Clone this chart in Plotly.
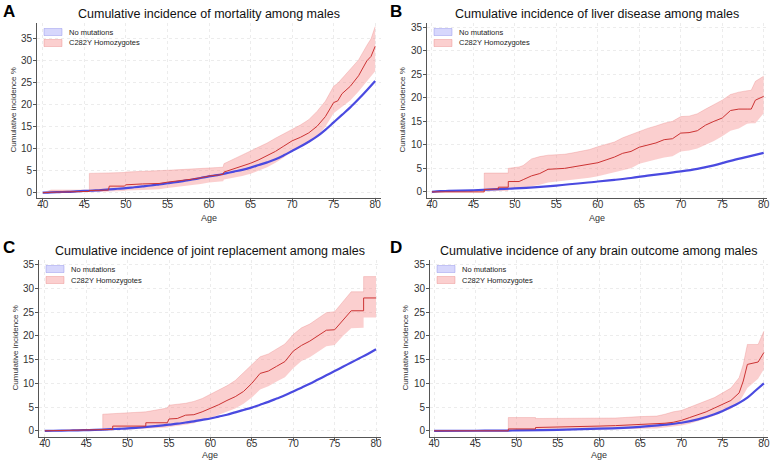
import plotly.graph_objects as go

# ---- data ----
titles = ["Cumulative incidence of mortality among males",
          "Cumulative incidence of liver disease among males",
          "Cumulative incidence of joint replacement among males",
          "Cumulative incidence of any brain outcome among males"]
letters = ["A", "B", "C", "D"]
legend_names = ["No mutations", "C282Y Homozygotes"]
x_title = "Age"
y_title = "Cumulative incidence %"
x_ticks = [40, 45, 50, 55, 60, 65, 70, 75, 80]
y_ticks = [0, 5, 10, 15, 20, 25, 30, 35]

# A: mortality
a_age_blue = [40, 41, 42, 43, 44, 45, 46, 47, 48, 49, 50, 51, 52, 53, 54, 55, 56, 57, 58, 59, 60,
              61, 62, 63, 64, 65, 66, 67, 68, 69, 70, 71, 72, 73, 74, 75, 76, 77, 78, 79, 80]
a_blue = [0, 0.1, 0.15, 0.2, 0.3, 0.4, 0.5, 0.6, 0.75, 0.9, 1.05, 1.25, 1.45, 1.65, 1.9, 2.15, 2.4,
          2.7, 3.0, 3.35, 3.7, 4.0, 4.4, 4.8, 5.2, 5.7, 6.3, 6.9, 7.6, 8.5, 9.5, 10.5, 11.6,
          12.8, 14.3, 16.0, 17.7, 19.4, 21.3, 23.3, 25.4]
a_age = [40, 41, 45.6, 45.6, 47.9, 48, 49.8, 50, 52, 54, 55, 56, 57, 58, 59, 60, 61, 61.7, 61.8,
         63, 64, 65, 66, 67, 68, 69, 70, 71, 72, 73, 74, 75, 75.5, 76, 77, 78, 79, 79.5, 80]
a_red = [0, 0.1, 0.3, 0.5, 0.6, 1.5, 1.5, 1.8, 2.0, 2.1, 2.4, 2.6, 2.8, 3.1, 3.4, 3.8, 4.0, 4.2,
         4.7, 5.4, 6.0, 6.7, 7.5, 8.4, 9.4, 10.6, 11.8, 12.6, 13.6, 15.1, 17.3, 20.5, 20.9, 22.5,
         24.2, 26.6, 30.0, 31.0, 33.3]
a_lo = [0, 0.1, 0.3, 0.1, 0.2, 0.3, 0.4, 0.5, 0.6, 0.8, 1.1, 1.3, 1.5, 1.8, 2.0, 2.3, 2.5, 2.6,
        3.0, 3.4, 3.8, 4.3, 5.0, 5.8, 6.8, 8.0, 9.4, 10.3, 11.3, 12.8, 15.0, 18.1, 18.8, 19.5,
        21.0, 23.0, 25.5, 26.5, 27.6]
a_hi = [0, 0.6, 0.6, 4.4, 4.5, 4.5, 4.6, 4.7, 4.8, 4.9, 5.1, 5.2, 5.3, 5.4, 5.5, 5.6, 5.7, 5.8,
        6.6, 7.7, 8.5, 9.5, 10.3, 11.3, 12.4, 13.4, 14.4, 15.4, 16.6, 18.5, 20.8, 24.2, 24.9,
        26.0, 28.0, 30.2, 33.5, 35.0, 37.8]

# B: liver disease
b_age_blue = [40, 41, 42, 45, 50, 55, 60, 62, 64, 66, 68, 70, 72, 74, 76, 78, 80]
b_blue = [0, 0.15, 0.2, 0.35, 0.75, 1.35, 2.2, 2.55, 2.95, 3.45, 3.9, 4.35, 4.9, 5.65, 6.6, 7.45, 8.3]
b_age = [40, 46.3, 46.3, 48, 48, 49.2, 49.2, 50.5, 51, 52, 53, 54, 55, 56, 57, 58, 59, 60, 61, 62,
         63, 64, 65, 66, 67, 68, 69, 70, 71, 72, 73, 74, 75, 76, 77, 78, 78.5, 79, 80]
b_red = [0, 0, 0.5, 0.6, 1.0, 1.0, 2.2, 2.2, 2.6, 3.4, 3.9, 4.8, 4.9, 5.0, 5.3, 5.6, 6.0, 6.2, 6.8,
         7.4, 8.2, 8.6, 9.5, 10.0, 10.4, 11.1, 11.3, 12.5, 12.6, 13.0, 14.2, 15.0, 15.7, 17.3, 17.6,
         17.6, 17.6, 19.5, 20.3]
b_lo = [0, 0, 0.1, 0.2, 0.2, 0.2, 0.7, 0.8, 0.9, 1.2, 1.5, 2.0, 2.2, 2.3, 2.5, 2.7, 3.0, 3.3, 3.7,
        4.1, 4.6, 5.0, 6.0, 6.5, 6.9, 7.3, 7.6, 8.6, 8.8, 9.2, 10.0, 10.8, 11.8, 13.0, 13.5, 14.5,
        14.6, 14.6, 16.7]
b_hi = [0, 0, 4.0, 4.0, 4.0, 4.0, 5.0, 5.3, 5.6, 7.0, 7.5, 7.8, 7.9, 8.0, 8.3, 8.6, 9.0, 9.6,
        10.1, 10.6, 11.5, 12.2, 12.8, 13.5, 14.0, 14.6, 15.0, 16.0, 16.1, 16.6, 17.6, 18.5, 19.5,
        20.7, 21.2, 21.5, 21.6, 23.5, 24.6]

# C: joint replacement
c_age_blue = [40, 41, 42, 43, 44, 45, 46, 47, 48, 49, 50, 51, 52, 53, 54, 55, 56, 57, 58, 59, 60,
              61, 62, 63, 64, 65, 66, 67, 68, 69, 70, 71, 72, 73, 74, 75, 76, 77, 78, 79, 80]
c_blue = [0, 0.02, 0.04, 0.07, 0.1, 0.15, 0.2, 0.27, 0.35, 0.42, 0.5, 0.62, 0.77, 0.93, 1.1, 1.3,
          1.5, 1.75, 2.0, 2.3, 2.6, 3.0, 3.4, 3.9, 4.4, 4.9, 5.5, 6.1, 6.8, 7.5, 8.3, 9.1, 9.9,
          10.8, 11.7, 12.6, 13.5, 14.4, 15.3, 16.2, 17.2]
c_age = [40, 47, 47, 48.2, 48.2, 52.2, 52.2, 54.8, 55, 56, 57, 58, 59, 60, 61, 62, 63, 64, 65, 66,
         67, 68, 69, 70, 71, 72, 73, 74, 75, 76, 77, 78.5, 78.5, 80]
c_red = [0, 0.2, 0.3, 0.3, 1.0, 1.0, 1.7, 1.7, 2.5, 2.6, 3.3, 3.4, 4.0, 4.7, 5.5, 6.4, 7.2, 8.3,
         10.0, 12.1, 12.6, 13.6, 14.6, 16.8, 18.0, 18.9, 20.0, 21.2, 21.3, 23.4, 25.3, 25.3, 28.0,
         28.0]
c_lo = [0, 0.2, 0.0, 0.1, 0.1, 0.4, 0.4, 0.7, 0.8, 1.0, 1.3, 1.6, 2.1, 2.7, 3.4, 4.1, 4.7, 5.7,
        7.0, 8.7, 9.4, 10.4, 11.3, 13.2, 14.7, 15.5, 16.6, 17.8, 18.1, 20.0, 21.6, 21.7, 23.9, 23.9]
c_hi = [0, 0.2, 3.5, 3.6, 3.6, 4.0, 4.0, 4.8, 5.4, 5.6, 5.8, 6.2, 6.8, 7.7, 8.6, 9.5, 10.6, 12.2,
        14.0, 15.6, 16.2, 17.2, 18.3, 20.3, 21.7, 22.5, 23.7, 24.9, 25.1, 27.2, 29.3, 29.3, 32.5,
        32.5]

# D: any brain outcome
d_age_blue = [40, 45, 49, 50, 55, 60, 65, 68, 70, 72, 74, 75, 76, 77, 78, 79, 80]
d_blue = [0, 0.02, 0.05, 0.1, 0.2, 0.45, 0.85, 1.3, 1.7, 2.4, 3.5, 4.2, 5.0, 5.9, 7.0, 8.5, 10.0]
d_age = [40, 49, 49, 52.3, 52.3, 55, 60, 62, 65, 67, 68, 69, 70, 71, 72, 73, 74, 75, 76, 77, 77.5,
         78, 79.3, 80]
d_red = [0, 0, 0.4, 0.4, 0.7, 0.75, 1.0, 1.1, 1.3, 1.4, 1.6, 1.8, 2.2, 2.8, 3.4, 4.0, 4.8, 5.6,
         6.4, 8.0, 10.5, 14.0, 14.5, 16.5]
d_lo = [0, 0, 0, 0, 0.05, 0.1, 0.3, 0.35, 0.5, 0.5, 0.7, 0.9, 1.1, 1.5, 2.0, 2.6, 3.2, 4.0, 4.6,
        6.0, 7.5, 9.0, 11.0, 13.0]
d_hi = [0, 0, 2.8, 2.8, 2.6, 2.6, 2.6, 2.7, 3.0, 3.1, 3.5, 4.0, 4.3, 5.0, 5.6, 6.4, 7.0, 8.0, 9.0,
        11.2, 14.0, 18.2, 18.2, 21.0]

panels = [
    (a_age_blue, a_blue, a_age, a_red, a_lo, a_hi),
    (b_age_blue, b_blue, b_age, b_red, b_lo, b_hi),
    (c_age_blue, c_blue, c_age, c_red, c_lo, c_hi),
    (d_age_blue, d_blue, d_age, d_red, d_lo, d_hi),
]

# ---- layout geometry (pixels of the 775x464 page) ----
W, H = 775, 464
boxes = [(37, 381, 23, 198), (427, 767, 23, 198), (39, 381, 260, 437), (430, 768, 260, 437)]
xranges = [[39.3, 80.7], [39.4, 80.4], [39.3, 80.6], [39.5, 80.5]]
yranges = [[-1.2, 38.6], [-1.3, 35.9], [-1.3, 36.0], [-1.3, 36.0]]
ytitle_x = [13, 402, 15, 405]
xtitle_y = [218, 218, 455, 455]

BLUE = "#4a4ae0"
RED = "#cc3333"
RED_FILL = "rgba(245,140,140,0.42)"
BLUE_FILL = "rgba(140,140,245,0.35)"
FONT = "Liberation Sans, Arial, sans-serif"

fig = go.Figure()
for i, (xb, yb, xr, yr, ylo, yhi) in enumerate(panels):
    ax = "" if i == 0 else str(i + 1)
    xa, ya = "x" + ax, "y" + ax
    fig.add_trace(go.Scatter(x=xr, y=ylo, mode="lines", line=dict(width=0),
                             xaxis=xa, yaxis=ya, showlegend=False, hoverinfo="skip"))
    fig.add_trace(go.Scatter(x=xr, y=yhi, mode="lines", line=dict(width=0.6,
                             color="rgba(230,120,120,0.5)"), fill="tonexty", fillcolor=RED_FILL,
                             xaxis=xa, yaxis=ya, showlegend=False, hoverinfo="skip"))
    fig.add_trace(go.Scatter(x=xb, y=yb, mode="lines", line=dict(color=BLUE, width=2.2, shape="spline"),
                             xaxis=xa, yaxis=ya, name=legend_names[0], showlegend=False))
    fig.add_trace(go.Scatter(x=xr, y=yr, mode="lines", line=dict(color=RED, width=1),
                             xaxis=xa, yaxis=ya, name=legend_names[1], showlegend=False))

    x0, x1, y0, y1 = boxes[i]
    axis_common = dict(showline=True, linecolor="#555", linewidth=1, ticks="outside", ticklen=3,
                       tickcolor="#555", tickfont=dict(size=10, color="#333", family=FONT),
                       showgrid=True, gridcolor="#ececec", griddash="dot", zeroline=False,
                       automargin=False)
    fig.update_layout(**{
        "xaxis" + ax: dict(domain=[x0 / W, x1 / W], range=xranges[i], tickvals=x_ticks,
                           anchor=ya, ticklabelstandoff=-6, **axis_common),
        "yaxis" + ax: dict(domain=[1 - y1 / H, 1 - y0 / H], range=yranges[i], tickvals=y_ticks,
                           anchor=xa, ticklabelstandoff=-1, **axis_common),
    })

    # axis titles
    fig.add_annotation(text=x_title, xref="paper", yref="paper", x=(x0 + x1) / 2 / W,
                       y=1 - xtitle_y[i] / H, xanchor="center", yanchor="middle", showarrow=False,
                       font=dict(size=9, color="#333", family=FONT))
    fig.add_annotation(text=y_title, xref="paper", yref="paper", x=ytitle_x[i] / W,
                       y=1 - (y0 + y1) / 2 / H, xanchor="center", yanchor="middle", showarrow=False,
                       textangle=-90, font=dict(size=8, color="#333", family=FONT))

    # title and panel letter
    fig.add_annotation(text=titles[i], xref="paper", yref="paper", x=(x0 + x1) / 2 / W,
                       y=1 - (y0 - 9) / H, xanchor="center", yanchor="middle", showarrow=False,
                       font=dict(size=12.5, color="#111", family=FONT))
    fig.add_annotation(text="<b>" + letters[i] + "</b>", xref="paper", yref="paper",
                       x=(1 if i % 2 == 0 else 388) / W, y=1 - (0 if i < 2 else 236) / H,
                       xanchor="left", yanchor="top", showarrow=False,
                       font=dict(size=17, color="#000", family=FONT))

    # legend drawn inside the plot area
    for k, (fc, lc) in enumerate([(BLUE_FILL, "rgba(120,120,230,0.6)"),
                                   (RED_FILL, "rgba(230,120,120,0.6)")]):
        ty = y0 + 9 + k * 11
        fig.add_shape(type="rect", xref="paper", yref="paper",
                      x0=(x0 + 7) / W, x1=(x0 + 25) / W, y0=1 - (ty + 3.5) / H, y1=1 - (ty - 3.5) / H,
                      fillcolor=fc, line=dict(color=lc, width=0.6))
        fig.add_annotation(text=legend_names[k], xref="paper", yref="paper",
                           x=(x0 + 30) / W, y=1 - ty / H, xanchor="left", yanchor="middle",
                           showarrow=False, font=dict(size=7.5, color="#222", family=FONT))

fig.update_layout(width=W, height=H, margin=dict(l=0, r=0, t=0, b=0),
                  plot_bgcolor="white", paper_bgcolor="white", showlegend=False)
fig.write_html("out.html", config={"displayModeBar": False},
               post_script="document.body.style.margin='0';")
